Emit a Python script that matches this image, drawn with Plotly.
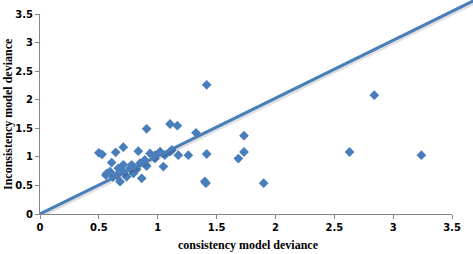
import plotly.graph_objects as go

# Scatter data: consistency model deviance (x) vs inconsistency model deviance (y)
consistency_dev = [
    2.84, 2.63, 3.24, 1.416, 1.325, 1.733, 1.733, 1.685, 1.416, 1.40, 1.41, 1.90, 1.26,
    0.906, 1.105, 1.167, 0.708, 0.50, 0.527, 0.643, 0.835,
    0.935, 0.977, 1.02, 1.06, 1.105, 1.12, 1.175, 0.977, 1.048, 0.906, 0.89, 0.85, 0.864,
    0.609, 0.708, 0.779, 0.595, 0.652, 0.68, 0.736, 0.793, 0.708, 0.765, 0.82, 0.665,
    0.567, 0.62, 0.56,
]
inconsistency_dev = [
    2.08, 1.085, 1.03, 2.26, 1.42, 1.37, 1.085, 0.97, 1.05, 0.57, 0.54, 0.54, 1.03,
    1.49, 1.575, 1.545, 1.17, 1.07, 1.045, 1.08, 1.10,
    1.06, 1.03, 1.09, 1.03, 1.09, 1.12, 1.03, 0.975, 0.83, 0.84, 0.945, 0.89, 0.625,
    0.90, 0.86, 0.86, 0.74, 0.68, 0.565, 0.65, 0.71, 0.74, 0.80, 0.78, 0.80,
    0.71, 0.65, 0.68,
]

# Line of equality (extends to the chart corner)
line_x = [0, 3.7]
line_y = [0, 3.75]

tick_vals = [0, 0.5, 1, 1.5, 2, 2.5, 3, 3.5]
tick_text = ["0", "0.5", "1", "1.5", "2", "2.5", "3", "3.5"]

x_title = "consistency model deviance"
y_title = "Inconsistency model deviance"

BLUE = "#4A7EBB"
AXIS = "#868686"

W, H = 473, 254
ML, MB = 40, 40
paper_w = W - ML
paper_h = H - MB
plot_w = 412
plot_h = 200
px_per_x = plot_w / 3.5
px_per_y = plot_h / 3.5

fig = go.Figure()

fig.add_trace(go.Scatter(
    x=consistency_dev, y=inconsistency_dev, mode="markers",
    marker=dict(symbol="diamond", size=7.5, color=BLUE, line=dict(width=0)),
    xaxis="x", yaxis="y", showlegend=False, cliponaxis=False,
))

# soft shadow under the line
fig.add_trace(go.Scatter(
    x=line_x, y=[v - 0.04 for v in line_y], mode="lines",
    line=dict(color="rgba(0,0,0,0.12)", width=4),
    xaxis="x2", yaxis="y2", showlegend=False, hoverinfo="skip",
))
fig.add_trace(go.Scatter(
    x=line_x, y=line_y, mode="lines",
    line=dict(color=BLUE, width=3),
    xaxis="x2", yaxis="y2", showlegend=False,
))

tick_font = dict(family="DejaVu Sans", size=10, color="#000000", weight="bold")
title_font = dict(family="Liberation Serif", size=12, color="#000000")

fig.update_layout(
    width=W, height=H,
    margin=dict(l=ML, r=0, t=0, b=MB, pad=0, autoexpand=False),
    paper_bgcolor="white", plot_bgcolor="rgba(0,0,0,0)",
    xaxis=dict(
        domain=[0, plot_w / paper_w], range=[0, 3.5], automargin=False,
        tickvals=tick_vals, ticktext=tick_text,
        showgrid=False, zeroline=False, showline=True, linecolor=AXIS, linewidth=1,
        ticks="outside", ticklen=4, tickcolor=AXIS, tickfont=tick_font,
    ),
    yaxis=dict(
        domain=[0, plot_h / paper_h], range=[0, 3.5], automargin=False,
        tickvals=tick_vals, ticktext=tick_text,
        showgrid=False, zeroline=False, showline=True, linecolor=AXIS, linewidth=1,
        ticks="outside", ticklen=4, tickcolor=AXIS, tickfont=tick_font,
    ),
    xaxis2=dict(
        domain=[0, 1], range=[0, paper_w / px_per_x], anchor="y2",
        visible=False, fixedrange=True, automargin=False,
    ),
    yaxis2=dict(
        domain=[0, 1], range=[0, paper_h / px_per_y], anchor="x2",
        visible=False, fixedrange=True, automargin=False,
    ),
    annotations=[
        dict(text="<b>" + x_title + "</b>", xref="paper", yref="paper",
             x=(248 - ML) / paper_w, y=(paper_h - 245 + 0) / paper_h,
             xanchor="center", yanchor="middle", showarrow=False, font=title_font),
        dict(text="<b>" + y_title + "</b>", xref="paper", yref="paper",
             x=(8 - ML) / paper_w, y=(paper_h - 114) / paper_h, textangle=-90,
             xanchor="center", yanchor="middle", showarrow=False, font=title_font),
    ],
)

fig.write_html(
    "out.html",
    config={"displayModeBar": False},
    post_script="document.body.style.margin='0';document.body.style.overflow='hidden';",
)
